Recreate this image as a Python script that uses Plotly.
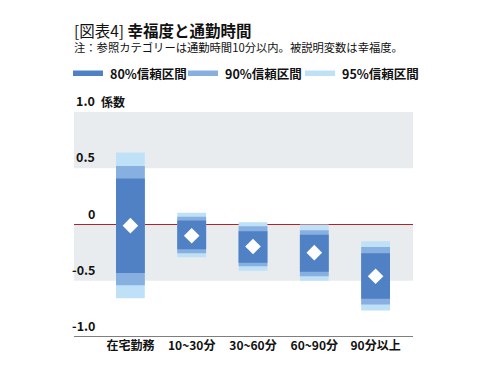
import plotly.graph_objects as go

categories = ["在宅勤務", "10~30分", "30~60分", "60~90分", "90分以上"]
estimate = [-0.01, -0.10, -0.195, -0.25, -0.46]
ci80_lo = [-0.43, -0.22, -0.34, -0.42, -0.66]
ci80_hi = [0.41, 0.035, -0.06, -0.09, -0.255]
ci90_lo = [-0.54, -0.255, -0.37, -0.46, -0.71]
ci90_hi = [0.52, 0.07, -0.015, -0.05, -0.20]
ci95_lo = [-0.655, -0.29, -0.41, -0.50, -0.765]
ci95_hi = [0.64, 0.105, 0.02, 0.0, -0.148]
ytick_vals = [1.0, 0.5, 0, -0.5, -1.0]
ytick_text = ["1.0", "0.5", "0", "-0.5", "-1.0"]
legend_labels = ["80%信頼区間", "90%信頼区間", "95%信頼区間"]

FONT = "Noto Sans CJK JP"
C80, C90, C95 = "#4f81c4", "#87afdf", "#bfe1f7"
legend_colors = [C80, C90, C95]

# page body adds an 8px offset; work in screen pixels and convert
OFF = 8
W, H = 489 - OFF, 373 - OFF
PL, PR, PT, PB = 74, 413, 112, 337  # plot area in screen pixels
L, T = PL - OFF, PT - OFF
R, B = W - (PR - OFF), H - (PB - OFF)
PW, PH = PR - PL, PB - PT


def px(xs):
    return (xs - PL) / PW


def py(ys):
    return (PB - ys) / PH


x = list(range(len(categories)))
fig = go.Figure()

for lo, hi, col in [(ci95_lo, ci95_hi, C95), (ci90_lo, ci90_hi, C90), (ci80_lo, ci80_hi, C80)]:
    fig.add_trace(go.Bar(
        x=x, base=lo, y=[h - l for h, l in zip(hi, lo)],
        marker=dict(color=col, line=dict(width=0)), width=0.47,
        showlegend=False, hoverinfo="skip"))

fig.add_trace(go.Scatter(
    x=x, y=estimate, mode="markers",
    marker=dict(symbol="diamond", size=12, color="white", line=dict(width=0)),
    showlegend=False, hoverinfo="skip"))

shapes = [
    dict(type="rect", xref="paper", yref="y", x0=0, x1=1, y0=0.5, y1=1.0,
         fillcolor="#e9ecef", line=dict(width=0), layer="below"),
    dict(type="rect", xref="paper", yref="y", x0=0, x1=1, y0=-0.5, y1=0,
         fillcolor="#e9ecef", line=dict(width=0), layer="below"),
    dict(type="line", xref="paper", yref="y", x0=0, x1=1, y0=0, y1=0,
         line=dict(color="#b0232a", width=1.2), layer="below"),
    dict(type="line", xref="paper", yref="y", x0=0, x1=1, y0=-1, y1=-1,
         line=dict(color="black", width=1.2), layer="above"),
]

annotations = []
for v, t in zip(ytick_vals, ytick_text):
    annotations.append(dict(
        text=f"<b>{t}</b>", xref="paper", yref="y", x=px(97), y=v,
        xanchor="right", yanchor="bottom", yshift=0, showarrow=False,
        font=dict(family=FONT, size=12.5, color="#111")))
annotations.append(dict(
    text="<b>係数</b>", xref="paper", yref="y", x=px(99), y=1.0,
    xanchor="left", yanchor="bottom", yshift=0, showarrow=False,
    font=dict(family=FONT, size=12, color="#111")))
annotations.append(dict(
    text="[図表4] <b>幸福度と通勤時間</b>", xref="paper", yref="paper",
    x=px(72), y=py(29.5), xanchor="left", yanchor="middle",
    showarrow=False, font=dict(family=FONT, size=15.5, color="#111")))
annotations.append(dict(
    text="注：参照カテゴリーは通勤時間10分以内。被説明変数は幸福度。", xref="paper",
    yref="paper", x=px(72), y=py(46.5), xanchor="left", yanchor="middle",
    showarrow=False, font=dict(family=FONT, size=11.3, color="#111")))

rect_x = [73, 188, 305]
for lx, lab, col in zip(rect_x, legend_labels, legend_colors):
    shapes.append(dict(type="rect", xref="paper", yref="paper",
                       x0=px(lx), x1=px(lx + 30), y0=py(76), y1=py(70.5),
                       fillcolor=col, line=dict(width=0)))
    annotations.append(dict(
        text=f"<b>{lab}</b>", xref="paper", yref="paper", x=px(lx + 35), y=py(73.5),
        xanchor="left", yanchor="middle", showarrow=False,
        font=dict(family=FONT, size=12.5, color="#111")))

fig.update_layout(
    width=W, height=H,
    margin=dict(l=L, r=R, t=T, b=B),
    paper_bgcolor="white", plot_bgcolor="white",
    barmode="overlay", showlegend=False,
    font=dict(family=FONT, color="#111"),
    xaxis=dict(range=[-0.92, 4.61], tickmode="array", tickvals=x,
               ticktext=[f"<b>{c}</b>" for c in categories],
               tickfont=dict(family=FONT, size=12, color="#111"),
               showgrid=False, zeroline=False, showline=False, ticks="",
               automargin=False),
    yaxis=dict(range=[-1.0, 1.0], showticklabels=False, showgrid=False,
               zeroline=False, showline=False, ticks="", automargin=False),
    shapes=shapes, annotations=annotations,
)
fig.write_html("out.html")
